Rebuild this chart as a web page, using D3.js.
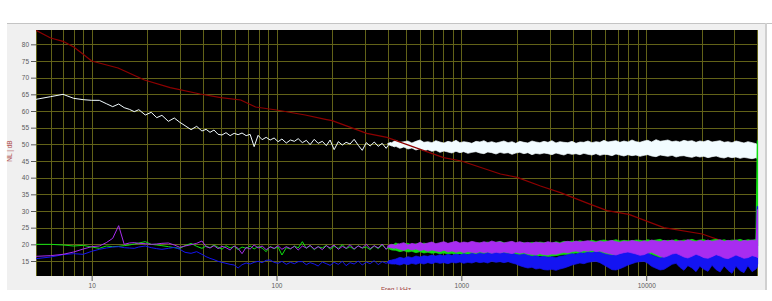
<!DOCTYPE html>
<html>
<head>
<meta charset="utf-8">
<script src="https://cdn.jsdelivr.net/npm/d3@7"></script>
<style>
    body { margin: 0; background: #ffffff; }
    svg { display: block; }
    text { font-family: "Liberation Sans", Arial, sans-serif; }
</style>
</head>
<body>
<svg id="chart"></svg>
<script>
// reference curve (dark red)
const redFreq = [5, 6, 7, 8, 9, 10, 13.9, 19.3, 26.6, 38.6, 50, 64, 77, 100, 143, 184, 200, 308, 396, 487, 801, 1000, 1627, 2003, 2679, 3434, 4994, 6150, 8055, 12450, 20100, 26300, 40000]
const redDb = [84.2, 81.9, 80.9, 79.2, 77.0, 75.0, 72.9, 69.3, 67.0, 65.1, 64.0, 63.3, 61.2, 60.3, 58.8, 57.5, 57.1, 53.3, 52.1, 50.3, 46.0, 45.0, 41.1, 40.1, 37.5, 35.5, 32.0, 30.1, 29.0, 25.0, 23.1, 20.8, 18.0]

// low / mid frequency samples (Hz), shared by the four measured curves
const lowFreq = [5, 6, 7, 8, 9, 10, 11, 12, 13, 14, 15, 16, 17, 18, 19.5, 21, 22.5, 24, 26, 28, 30, 32, 34.5, 37, 39.5,
    41.6, 43.7, 45.9, 48.3, 50.7, 53.3, 56.1, 59, 62, 65.1, 68.5, 72, 75.7, 79.5, 83.6, 87.9, 92.4, 97.1, 102, 107,
    113, 119, 125, 131, 138, 145, 152, 160, 168, 177, 186, 195, 205, 216, 227, 238, 250, 263, 277, 291, 306, 321, 338,
    355, 373, 392, 412, 433, 455, 478]

const whiteLow = [63.5, 64.3, 65.0, 63.8, 63.4, 63.2, 63.2, 62.2, 61.3, 62.1, 61.0, 60.5, 59.8, 60.4, 58.8, 59.6, 58.0, 58.7, 56.9, 57.9, 56.6, 55.6, 54.4, 55.4, 54.0,
    54.5, 53.6, 54.3, 53.0, 52.8, 53.5, 52.6, 53.3, 52.9, 53.4, 52.6, 53.0, 49.3, 52.7, 51.4, 52.1, 51.3, 51.9, 50.8, 51.6,
    50.4, 51.3, 50.9, 51.7, 50.5, 51.2, 49.9, 51.5, 50.3, 50.9, 49.6, 51.3, 48.4, 50.8, 49.8, 50.6, 50.1, 51.5, 49.7, 48.2,
    50.5, 49.5, 50.7, 49.4, 50.3, 48.8, 50.6, 49.2, 50.1, 48.9]
const greenLow = [20.0, 20.0, 19.8, 19.5, 19.7, 19.2, 18.8, 19.5, 19.3, 19.4, 19.6, 19.8, 20.1, 20.4, 20.8, 20.0, 19.8, 19.6, 19.3, 19.0, 18.8, 19.6, 20.3, 19.4, 18.8,
    19.5, 19.0, 19.8, 19.1, 18.5, 19.6, 18.9, 19.4, 18.4, 19.2, 18.8, 19.5, 18.6, 19.3, 18.9, 17.8, 19.4, 18.7, 19.2, 16.8,
    19.0, 18.6, 19.5, 18.9, 20.8, 18.8, 19.6, 18.4, 19.3, 18.9, 19.7, 18.5, 19.4, 18.8, 19.9, 18.7, 19.3, 18.5, 19.6, 18.9,
    19.2, 18.4, 19.5, 18.7, 19.8, 18.6, 19.4, 18.8, 19.9, 18.5]
const purpleLow = [16.4, 16.6, 17.0, 17.7, 18.6, 19.3, 19.5, 20.5, 21.8, 25.6, 20.0, 20.4, 20.5, 20.3, 20.2, 20.0, 20.1, 20.3, 20.4, 19.8, 19.1, 19.5, 19.9, 20.3, 21.0,
    19.3, 18.9, 19.6, 18.7, 19.4, 19.0, 18.3, 19.5, 18.8, 17.2, 19.1, 18.6, 19.8, 18.9, 19.5, 18.4, 19.2, 18.8, 19.6, 18.5,
    19.3, 18.7, 19.4, 18.3, 19.5, 18.9, 19.7, 18.6, 19.3, 18.4, 19.6, 18.9, 19.8, 18.5, 19.4, 18.8, 19.9, 18.6, 19.5, 18.9,
    20.0, 18.7, 19.6, 18.9, 20.1, 18.5, 19.8, 18.7, 20.2, 18.6]
const blueLow = [15.7, 16.2, 16.9, 17.2, 17.0, 17.9, 18.5, 18.9, 19.2, 19.3, 19.0, 18.9, 18.8, 19.2, 19.5, 19.0, 18.7, 18.5, 18.8, 19.1, 18.5, 17.6, 17.3, 17.8, 17.0,
    16.3, 15.8, 15.4, 14.9, 14.6, 14.3, 14.0, 13.8, 12.9, 13.9, 14.4, 14.1, 14.6, 14.9, 14.5, 15.2, 15.3, 14.6, 14.3, 14.9,
    14.0, 14.6, 14.2, 14.8, 14.8, 13.9, 14.5, 14.1, 13.5, 14.7, 14.2, 13.7, 14.6, 14.0, 14.9, 13.6, 14.5, 14.1, 15.0, 13.8,
    14.7, 14.2, 15.1, 13.9, 14.8, 14.3, 15.3, 14.1, 15.2, 14.4]

// high frequency part is a dense band: upper and lower edges
const bandFreq = [400, 420, 442, 465, 489, 514, 540, 568, 597, 627,
    659, 693, 728, 766, 805, 846, 889, 935, 982, 1030,
    1085, 1140, 1200, 1260, 1325, 1390, 1460, 1540, 1620, 1700,
    1790, 1880, 1970, 2070, 2180, 2290, 2410, 2530, 2660, 2800,
    2940, 3090, 3250, 3410, 3590, 3770, 3970, 4170, 4380, 4600,
    4840, 5090, 5350, 5620, 5910, 6210, 6530, 6860, 7210, 7580,
    7970, 8380, 8800, 9250, 9730, 10200, 10700, 11300, 11900, 12500,
    13100, 13800, 14500, 15200, 16000, 16800, 17700, 18600, 19500, 20500,
    21600, 22700, 23900, 25100, 26400, 27700, 29100, 30600, 32200, 33800,
    35500, 37400, 39300, 40000]

const whiteHi = [50.3, 50.5, 51.2, 50.6, 50.8, 51.0, 50.4, 50.9, 51.3, 50.6,
    50.8, 50.5, 51.1, 50.7, 50.4, 50.9, 50.6, 51.2, 50.5, 50.8,
    50.6, 50.3, 50.9, 50.7, 51.1, 50.5, 50.8, 50.4, 50.7, 51.0,
    50.5, 50.8, 50.3, 50.9, 50.6, 50.4, 51.0, 50.7, 50.5, 50.9,
    50.6, 51.1, 50.4, 50.8, 50.6, 50.5, 50.9, 50.3, 50.7, 50.6,
    51.0, 50.5, 50.8, 50.6, 51.2, 50.7, 50.9, 51.1, 50.6, 51.0,
    50.7, 51.3, 50.8, 50.6, 51.0, 51.2, 50.7, 51.4, 50.9, 51.1,
    51.3, 50.8, 51.0, 50.7, 51.2, 50.9, 51.1, 50.6, 51.0, 50.8,
    51.2, 50.7, 50.9, 51.1, 50.6, 50.8, 50.5, 51.0, 50.7, 50.4,
    50.8, 50.5, 50.2, 49.9]
const whiteLo = [50.0, 49.5, 49.4, 48.8, 49.2, 48.6, 48.9, 48.3, 48.7, 48.1,
    48.4, 47.9, 48.2, 47.6, 48.0, 47.7, 47.4, 47.9, 47.5, 47.8,
    47.3, 47.6, 47.8, 47.4, 47.2, 47.7, 47.5, 47.1, 47.6, 47.3,
    47.5, 47.0, 47.4, 47.6, 47.2, 47.5, 46.9, 47.3, 47.1, 47.4,
    47.2, 46.9, 47.4, 47.1, 46.8, 47.3, 47.0, 47.2, 46.9, 47.3,
    47.0, 46.8, 47.2, 46.7, 47.0, 46.9, 46.6, 47.1, 46.8, 46.5,
    46.9, 46.6, 46.8, 46.4, 46.7, 46.9, 46.5, 46.3, 46.8, 46.6,
    46.4, 46.7, 46.2, 46.5, 46.6, 46.3, 46.1, 46.5, 46.2, 46.4,
    46.0, 46.3, 46.5, 46.1, 45.9, 46.3, 46.0, 46.2, 45.8, 46.1,
    45.9, 45.7, 46.0, 45.6]
const greenHi = [19.2, 19.6, 20.4, 19.9, 20.1, 20.3, 19.8, 20.2, 20.0, 20.4,
    20.1, 20.5, 20.0, 20.3, 20.6, 20.1, 20.4, 20.7, 20.2, 20.5,
    20.3, 20.6, 20.2, 20.5, 20.4, 20.7, 20.3, 20.6, 20.9, 20.5,
    20.4, 20.7, 20.3, 20.6, 20.5, 20.2, 20.6, 20.4, 20.7, 20.5,
    20.6, 20.3, 20.8, 20.5, 20.9, 20.7, 21.0, 20.8, 21.1, 20.8,
    20.9, 21.2, 20.9, 21.1, 21.3, 21.0, 21.1, 21.4, 21.0, 21.2,
    21.1, 21.0, 21.3, 21.2, 21.0, 21.4, 21.1, 21.3, 21.5, 21.0,
    21.2, 21.1, 21.4, 21.0, 21.3, 21.2, 21.5, 21.1, 21.3, 21.4,
    21.0, 21.3, 21.5, 21.1, 21.4, 21.0, 21.3, 21.2, 21.5, 21.1,
    21.4, 21.2, 21.5, 21.3]
const greenLo = [18.8, 18.3, 18.2, 17.8, 18.1, 17.7, 17.9, 17.5, 17.8, 17.4,
    17.6, 17.3, 17.5, 17.2, 17.4, 17.1, 17.3, 17.0, 17.2, 16.9,
    17.1, 16.9, 17.0, 16.8, 17.1, 16.9, 16.7, 17.0, 16.8, 17.0,
    16.9, 16.6, 16.9, 16.7, 16.8, 16.5, 16.4, 16.3, 16.6, 16.4,
    16.3, 16.5, 16.6, 16.8, 17.0, 16.9, 17.2, 17.4, 17.1, 17.5,
    17.3, 17.5, 17.2, 17.4, 17.0, 16.8, 16.5, 16.3, 16.7, 16.9,
    17.1, 16.8, 16.6, 16.2, 16.4, 16.8, 17.0, 16.5, 16.0, 15.7,
    16.0, 16.6, 16.8, 16.3, 15.8, 15.5, 15.9, 16.5, 16.1, 15.6,
    15.4, 15.8, 16.4, 16.0, 15.5, 15.3, 15.7, 16.3, 15.8, 15.4,
    15.6, 16.1, 15.8, 15.7]
const purpleHi = [19.6, 20.0, 19.7, 20.2, 20.5, 19.8, 20.3, 20.0, 20.6, 20.1,
    20.4, 20.7, 20.2, 20.5, 20.8, 20.3, 20.6, 20.9, 20.4, 20.7,
    20.5, 20.9, 20.6, 20.4, 20.8, 20.5, 21.0, 20.6, 20.8, 20.4,
    20.7, 20.9, 20.5, 20.8, 20.4, 20.6, 20.3, 20.7, 20.5, 20.4,
    20.8, 20.5, 20.6, 20.3, 20.7, 20.9, 20.6, 21.0, 20.7, 20.9,
    21.1, 20.8, 20.6, 21.0, 20.7, 20.9, 21.2, 20.8, 20.6, 21.0,
    20.8, 21.2, 20.9, 20.7, 21.1, 20.8, 21.3, 21.0, 20.8, 21.2,
    20.9, 21.3, 20.8, 21.1, 20.9, 21.4, 21.0, 20.8, 21.2, 20.9,
    21.3, 20.9, 21.1, 21.4, 20.9, 21.2, 21.0, 21.3, 20.8, 21.2,
    21.0, 21.3, 21.1, 20.9]
const purpleLo = [19.2, 18.9, 18.9, 18.5, 18.2, 18.7, 18.3, 18.6, 18.1, 18.4,
    17.9, 18.3, 18.0, 17.8, 18.2, 17.7, 18.0, 17.6, 17.9, 17.5,
    17.8, 17.6, 17.4, 17.8, 17.5, 17.7, 17.3, 17.6, 17.4, 17.7,
    17.5, 17.2, 17.6, 17.3, 17.5, 17.1, 17.0, 16.8, 17.2, 16.9,
    16.8, 17.1, 17.0, 17.3, 17.6, 17.4, 17.8, 18.0, 17.7, 18.1,
    17.9, 18.2, 17.8, 18.0, 17.6, 17.3, 17.0, 16.8, 17.2, 17.5,
    17.7, 17.4, 17.1, 16.7, 16.9, 17.4, 17.6, 17.0, 16.4, 16.1,
    16.5, 17.1, 17.3, 16.8, 16.2, 15.9, 16.4, 17.0, 16.6, 16.0,
    15.8, 16.3, 16.9, 16.5, 15.9, 15.7, 16.2, 16.8, 16.3, 15.8,
    16.0, 16.6, 16.3, 16.1]
const blueHi = [14.8, 15.3, 15.6, 16.1, 15.8, 16.3, 16.0, 16.5, 16.2, 16.6,
    16.4, 16.8, 16.5, 16.9, 16.6, 17.0, 16.7, 17.1, 16.8, 17.2,
    16.9, 17.3, 17.0, 17.4, 17.1, 17.5, 17.2, 17.6, 17.3, 17.5,
    17.2, 17.4, 17.0, 16.8, 17.1, 16.7, 16.4, 16.6, 16.2, 16.4,
    16.1, 16.3, 16.0, 16.4, 16.6, 16.9, 17.2, 17.0, 17.5, 17.3,
    17.7, 17.5, 17.9, 17.6, 17.2, 16.9, 16.7, 16.9, 17.3, 17.6,
    17.9, 17.7, 18.1, 18.3, 18.0, 17.4, 16.8, 16.3, 15.9, 16.2,
    16.8, 17.3, 17.6, 17.9, 17.5, 17.0, 17.4, 17.1, 17.6, 17.3,
    17.7, 17.2, 17.5, 17.8, 17.3, 17.6, 17.9, 17.4, 17.7, 18.0,
    17.5, 17.8, 18.1, 17.6]
const blueLo = [14.3, 14.1, 14.1, 13.8, 14.2, 13.9, 14.3, 14.0, 14.4, 14.1,
    14.5, 14.2, 14.6, 14.3, 14.5, 14.2, 14.6, 14.4, 14.7, 14.3,
    14.6, 14.4, 14.8, 14.5, 14.7, 14.4, 14.9, 14.6, 14.8, 14.5,
    14.8, 14.4, 14.1, 13.6, 13.2, 12.9, 13.1, 12.6, 12.8, 12.4,
    12.3, 12.5, 12.2, 12.6, 12.9, 13.3, 13.8, 14.1, 14.4, 14.2,
    14.6, 14.8, 14.9, 14.5, 13.8, 13.1, 12.4, 12.3, 12.7, 13.2,
    13.8, 14.2, 14.6, 14.8, 14.9, 14.3, 13.4, 12.8, 12.3, 12.5,
    13.2, 14.0, 14.3, 13.1, 12.2, 13.6, 12.9, 11.8, 13.4, 12.5,
    11.9, 13.7, 12.4, 11.7, 13.5, 12.2, 11.3, 13.4, 12.1, 11.5,
    13.6, 11.8, 12.6, 13.3]

// last samples jump at the right edge
const edgeFreq = [39300, 40000, 40000]
const greenEdge = [19.5, 51.0, 19.5]
const blueEdge = [15.0, 31.3, 14.0]
const purpleEdge = [18.0, 30.3, 16.0]

const yTicks = [15, 20, 25, 30, 35, 40, 45, 50, 55, 60, 65, 70, 75, 80]
const xTicks = [10, 100, 1000, 10000]

const width = 772
const height = 301
const plot = { left: 36, right: 757.5, top: 30, bottom: 276 }

const svg = d3.select('#chart')
    .attr('width', width)
    .attr('height', height)

const x = d3.scaleLog().domain([5, 40000]).range([plot.left, plot.right])
const y = d3.scaleLinear().domain([10.5, 84.3]).range([plot.bottom, plot.top])

// grey panel
svg.append('rect')
    .attr('x', 7).attr('y', 23)
    .attr('width', 759).attr('height', 267)
    .attr('fill', '#f0f0f0')
svg.append('line')
    .attr('x1', 7).attr('x2', width)
    .attr('y1', 23.5).attr('y2', 23.5)
    .attr('stroke', '#c4c4c4')
svg.append('line')
    .attr('x1', 766).attr('x2', 766)
    .attr('y1', 23).attr('y2', 290)
    .attr('stroke', '#d0d0d0')
    .attr('stroke-width', 2)

svg.append('rect')
    .attr('x', plot.left).attr('y', plot.top)
    .attr('width', plot.right - plot.left).attr('height', plot.bottom - plot.top)
    .attr('fill', '#000000')

svg.append('defs').append('clipPath').attr('id', 'clip')
    .append('rect')
    .attr('x', plot.left).attr('y', plot.top)
    .attr('width', plot.right - plot.left + 1).attr('height', plot.bottom - plot.top)

// grid
const gridFreqs = []
;[1, 10, 100, 1000, 10000].forEach(d => {
    for (let k = 1; k <= 9; k++) {
        const f = k * d
        if (f >= 5 && f <= 40000) gridFreqs.push(f)
    }
})
const grid = svg.append('g').attr('stroke', '#626218').attr('stroke-width', 1)
grid.selectAll('.vgrid')
    .data(gridFreqs)
    .enter()
    .append('line')
    .attr('x1', d => Math.min(Math.round(x(d)) + 0.5, plot.right))
    .attr('x2', d => Math.min(Math.round(x(d)) + 0.5, plot.right))
    .attr('y1', plot.top).attr('y2', plot.bottom)
grid.selectAll('.hgrid')
    .data(yTicks)
    .enter()
    .append('line')
    .attr('x1', plot.left).attr('x2', plot.right)
    .attr('y1', d => Math.round(y(d)) + 0.5)
    .attr('y2', d => Math.round(y(d)) + 0.5)

// axes
const yAxis = d3.axisLeft(y).tickValues(yTicks).tickSize(5).tickPadding(2)
svg.append('g')
    .attr('transform', `translate(${plot.left},0)`)
    .call(yAxis)
    .style('font-size', '6.5px')
    .style('font-family', '"Liberation Sans", Arial, sans-serif')
    .style('color', '#5a5a5a')

const xAxis = d3.axisBottom(x).tickValues(xTicks).tickFormat(d3.format('d')).tickSize(5).tickPadding(2)
svg.append('g')
    .attr('transform', `translate(0,${plot.bottom})`)
    .call(xAxis)
    .style('font-size', '6.5px')
    .style('font-family', '"Liberation Sans", Arial, sans-serif')
    .style('color', '#5a5a5a')

svg.selectAll('.domain').remove()

svg.append('text')
    .attr('transform', 'translate(12,151) rotate(-90)')
    .attr('text-anchor', 'middle')
    .attr('fill', '#b05050')
    .style('font-size', '6.5px')
    .text('NL | dB')

svg.append('defs').append('clipPath').attr('id', 'panelClip')
    .append('rect').attr('x', 0).attr('y', 0).attr('width', width).attr('height', 290)
svg.append('text')
    .attr('clip-path', 'url(#panelClip)')
    .attr('x', 396).attr('y', 292)
    .attr('text-anchor', 'middle')
    .attr('fill', '#a04040')
    .style('font-size', '6.5px')
    .text('Freq | kHz')

// data
const data = svg.append('g').attr('clip-path', 'url(#clip)')

const line = d3.line().x(d => x(d[0])).y(d => y(d[1]))
const area = d3.area().x(d => x(d[0])).y0(d => y(d[1])).y1(d => y(d[2]))

const drawLine = (freqs, values, color, w) => {
    data.append('path')
        .datum(freqs.map((f, i) => [f, values[i]]))
        .attr('d', line)
        .attr('fill', 'none')
        .attr('stroke', color)
        .attr('stroke-width', w)
        .attr('stroke-linejoin', 'round')
}
const drawBand = (lo, hi, color) => {
    data.append('path')
        .datum(bandFreq.map((f, i) => [f, lo[i], hi[i]]))
        .attr('d', area)
        .attr('fill', color)
        .attr('stroke', color)
        .attr('stroke-width', 0.7)
}

drawLine(lowFreq, whiteLow, '#f2fcff', 1)
drawBand(whiteLo, whiteHi, '#f2fcff')

drawLine(redFreq, redDb, '#8e0000', 1.2)

drawLine(lowFreq, greenLow, '#10e010', 1)
drawBand(greenLo, greenHi, '#10e010')
drawLine(edgeFreq, greenEdge, '#10e010', 1.5)

drawLine(lowFreq, blueLow, '#1414f2', 1)
drawBand(blueLo, blueHi, '#1414f2')
drawLine(edgeFreq, blueEdge, '#1414f2', 1.5)

drawLine(lowFreq, purpleLow, '#a82cf0', 1)
drawBand(purpleLo, purpleHi, '#a82cf0')
drawLine(edgeFreq, purpleEdge, '#a82cf0', 1.5)
</script>
</body>
</html>
